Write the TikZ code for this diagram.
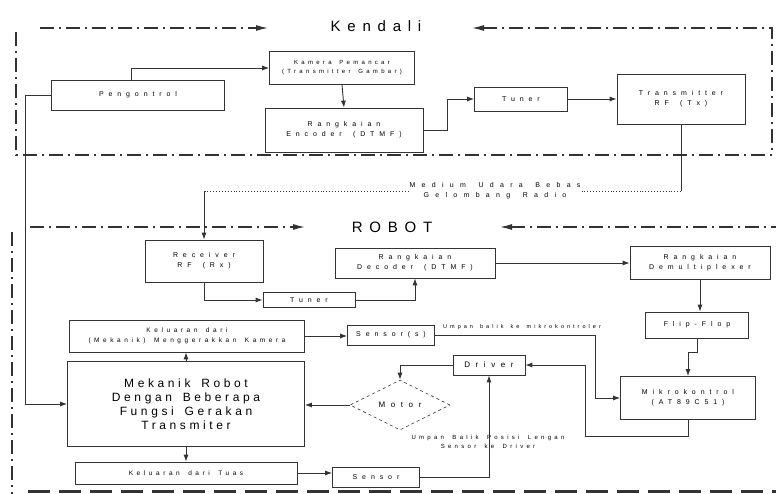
\documentclass[tikz,border=0pt]{standalone}
\usepackage{fontspec}
\setmainfont{Liberation Sans}
\newfontfamily\lsA{Liberation Sans}[LetterSpace=70]
\newfontfamily\lsB{Liberation Sans}[LetterSpace=55]
\newfontfamily\lsC{Liberation Sans}[LetterSpace=90]
\newfontfamily\lsT{Liberation Sans}[LetterSpace=45]
\newfontfamily\lsM{Liberation Sans}[LetterSpace=30]
\newcommand\wsp[1]{\spaceskip=#1\relax}
\usetikzlibrary{arrows.meta,shapes.geometric}
\definecolor{ln}{gray}{0.2}
\begin{document}
\begin{tikzpicture}[x=1pt,y=-1pt,
  box/.style={draw=ln,line width=0.7pt,inner sep=0pt,align=center,font={\lsA\fontsize{7}{10}\selectfont\wsp{1.6em}}},
  lbl/.style={inner sep=1pt,align=center,font={\lsB\fontsize{6}{9}\selectfont\wsp{1.4em}}},
  arr/.style={draw=ln,line width=0.9pt,-{Latex[length=7pt,width=5pt]}},
  ln/.style={draw=ln,line width=0.9pt},
  dd/.style={draw=ln,line width=1.3pt,dash pattern=on 14pt off 5pt on 2pt off 5pt},
  ddarr/.style={dd,-{Latex[length=12pt,width=6pt]}},
  ddrra/.style={dd,{Latex[length=12pt,width=6pt]}-},
  title/.style={font={\lsT\fontsize{15}{17}\selectfont}}]
\useasboundingbox[fill=white] (0,0) rectangle (776,494);

% ---------- Kendali frame ----------
\node[title] (tk) at (376,26) {Kendali};
\draw[ddarr] (40,28) -- (268,28);
\draw[ddrra] (472,28) -- (772,28) -- (772,155);
\draw[dd] (16,32) -- (16,155) -- (776,155);

% ---------- Robot frame ----------
\node[title] (tr) at (392,227) {ROBOT};
\draw[ddarr] (30,227) -- (305,227);
\draw[ddrra] (500,227) -- (776,227);
\draw[dd] (12,232) -- (12,494);
\draw[draw=ln,line width=3pt,dash pattern=on 22pt off 9pt] (28,491) -- (776,491);

% ---------- Kendali nodes ----------
\node[box,minimum width=173pt,minimum height=30pt] (peng) at (138,95) {Pengontrol};
\node[box,minimum width=145pt,minimum height=33pt,font={\lsB\fontsize{6}{9}\selectfont\wsp{1.3em}}] (kam) at (342,68) {Kamera Pemancar\\(Transmitter Gambar)};
\node[box,minimum width=158pt,minimum height=44pt] (enc) at (344,130) {Rangkaian\\Encoder (DTMF)};
\node[box,minimum width=93pt,minimum height=24pt] (tun) at (521,99) {Tuner};
\node[box,minimum width=128pt,minimum height=50pt] (tx) at (681,99) {Transmitter\\RF (Tx)};

% ---------- Robot nodes ----------
\node[box,minimum width=118pt,minimum height=42pt] (rx) at (204,261) {Receiver\\RF (Rx)};
\node[box,minimum width=92pt,minimum height=15pt] (rel) at (309,300) {Tuner};
\node[box,minimum width=160pt,minimum height=30pt] (dec) at (415,263) {Rangkaian\\Decoder (DTMF)};
\node[box,minimum width=140pt,minimum height=33pt] (dmx) at (700,263) {Rangkaian\\Demultiplexer};
\node[box,minimum width=103pt,minimum height=26pt] (ff) at (697,325) {Flip-Flop};
\node[box,minimum width=135pt,minimum height=43pt] (mk) at (688,398) {Mikrokontrol\\(AT89C51)};
\node[box,minimum width=235pt,minimum height=32pt,font={\lsB\fontsize{6.5}{10}\selectfont\wsp{1.3em}}] (klr) at (187,336) {Keluaran dari\\(Mekanik) Menggerakkan Kamera};
\node[box,minimum width=87pt,minimum height=20pt] (sen) at (391,335) {Sensor(s)};
\node[box,minimum width=72pt,minimum height=20pt,font={\lsA\fontsize{8}{10}\selectfont}] (drv) at (489,365) {Driver};
\node[draw=ln,line width=0.6pt,dashed,diamond,aspect=2,minimum width=100pt,minimum height=50pt,inner sep=0pt,font={\lsA\fontsize{8}{10}\selectfont}] (mot) at (400,405) {Motor};
\node[box,minimum width=237pt,minimum height=85pt,font={\lsM\fontsize{12}{14}\selectfont\wsp{0.9em}}] (mek) at (186,404) {Mekanik Robot\\Dengan Beberapa\\Fungsi Gerakan\\Transmiter};
\node[box,minimum width=222pt,minimum height=22pt,font={\lsB\fontsize{6.5}{9}\selectfont\wsp{1.3em}}] (tuas) at (186,473) {Keluaran dari Tuas};
\node[box,minimum width=87pt,minimum height=20pt] (sen2) at (376,477) {Sensor};

% ---------- Kendali connectors ----------
\draw[arr] ([xshift=-7pt]peng.north) |- (kam.west);
\draw[arr] (kam.south) -- (enc.north);
\draw[arr] (enc.east) -- ++(24,0) |- (tun.west);
\draw[arr] (tun.east) -- (tx.west);
\coordinate (txd) at (tx.south |- 0,191);
\coordinate (rxd) at (rx.north |- 0,191);
\draw[ln] (tx.south) -- (txd);
\draw[draw=ln,line width=0.9pt,dotted] (txd) -- (rxd);
\draw[arr] (rxd) -- (rx.north);
\node[lbl,fill=white,font={\lsC\fontsize{7}{10}\selectfont\wsp{1.8em}}] (med) at (495,191) {Medium Udara Bebas\\Gelombang Radio};
\coordinate (pl) at (25,95);
\draw[arr] (peng.west) -- (pl) |- (mek.west);

% ---------- Robot connectors ----------
\draw[arr] (rx.south) |- (rel.west);
\draw[arr] (rel.east) -| (dec.south);
\draw[arr] (dec.east) -- (dmx.west);
\draw[arr] (dmx.south) -- (dmx.south |- ff.north);
\draw[arr] (ff.south) -- ++(0,14) -| (mk.north);
\coordinate (drvr) at (585,365);
\draw[arr] (mk.south) -- ++(0,17) -| (drvr) -- (drv.east);
\draw[arr] (drv.west) -| (mot.north);
\draw[arr] (mot.west) -- (mot.west -| mek.east);
\draw[arr] (mek.north) -- (mek.north |- klr.south);
\draw[arr] (klr.east) -- (klr.east -| sen.west);
\coordinate (senr) at (595,335);
\draw[arr] (sen.east) -- (senr) |- (mk.west);
\node[lbl,font={\lsB\fontsize{5.5}{8}\selectfont\wsp{1.3em}}] (lb1) at (522,327) {Umpan balik ke mikrokontroler};
\draw[arr] (mek.south) -- (mek.south |- tuas.north);
\draw[arr] (tuas.east) -- (tuas.east -| sen2.west);
\draw[arr] (sen2.east) -| (drv.south);
\node[lbl] (lb2) at (488,442) {Umpan Balik Posisi Lengan\\Sensor ke Driver};
\end{tikzpicture}
\end{document}
